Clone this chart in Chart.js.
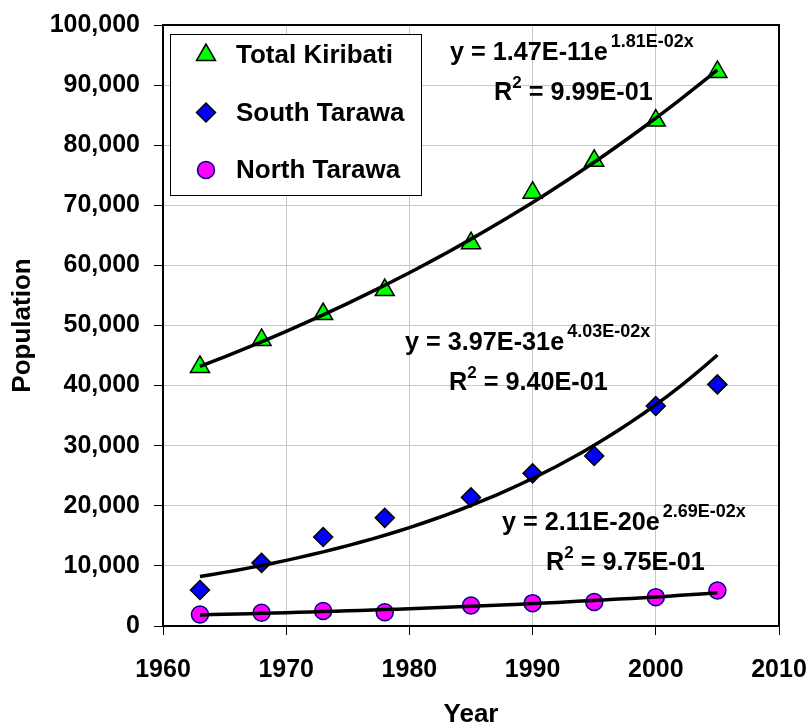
<!DOCTYPE html>
<html>
<head>
<meta charset="utf-8">
<title>Kiribati population</title>
<script src="https://cdn.jsdelivr.net/npm/chart.js@4.4.1/dist/chart.umd.min.js"></script>
<style>
  html, body { margin: 0; padding: 0; background: #fff; }
  canvas { display: block; }
</style>
</head>
<body>
<canvas id="grafico" width="811" height="722"></canvas>
<script>
// census years and population per series
const years = [1963, 1968, 1973, 1978, 1985, 1990, 1995, 2000, 2005];
const totalKiribati = [43100, 47600, 51900, 55900, 63700, 72100, 77400, 84100, 92200];
const southTarawa = [6000, 10500, 14800, 18000, 21400, 25400, 28300, 36600, 40200];
const northTarawa = [1900, 2200, 2500, 2300, 3400, 3800, 4000, 4800, 5900];
const seriesNames = ['Total Kiribati', 'South Tarawa', 'North Tarawa'];

// axis ticks
const xTicks = [1960, 1970, 1980, 1990, 2000, 2010];
const yTicks = [0, 10000, 20000, 30000, 40000, 50000, 60000, 70000, 80000, 90000, 100000];

// trendline equation texts: [coefficient, exponent, R squared]
const ecuaciones = [
    ['1.47E-11', '1.81E-02x', '9.99E-01'],
    ['3.97E-31', '4.03E-02x', '9.40E-01'],
    ['2.11E-20', '2.69E-02x', '9.75E-01']
];

const FUENTE = '"Liberation Sans", Arial, Helvetica, sans-serif';

const estilos = [
    { pointStyle: 'triangle', radius: 11, fill: '#00ff00', border: '#000000' },
    { pointStyle: 'rectRot', radius: 9.5, fill: '#0000ff', border: '#000000' },
    { pointStyle: 'circle', radius: 8.5, fill: '#ff00ff', border: '#000080' }
];

// least squares on ln(y), same as a spreadsheet exponential trendline
function ajusteExponencial(xs, ys) {
    const n = xs.length;
    const lns = ys.map(function (v) { return Math.log(v); });
    const mx = xs.reduce(function (a, b) { return a + b; }, 0) / n;
    const my = lns.reduce(function (a, b) { return a + b; }, 0) / n;
    let sxy = 0, sxx = 0;
    for (let i = 0; i < n; i++) {
        sxy += (xs[i] - mx) * (lns[i] - my);
        sxx += (xs[i] - mx) * (xs[i] - mx);
    }
    const b = sxy / sxx;
    const lnA = my - b * mx;
    return function (x) { return Math.exp(lnA + b * x); };
}

function lineaTendencia(valores) {
    const f = ajusteExponencial(years, valores);
    const puntos = [];
    for (let x = years[0]; x <= years[years.length - 1]; x++) {
        puntos.push({ x: x, y: f(x) });
    }
    return puntos;
}

function aPuntos(valores) {
    return years.map(function (x, i) { return { x: x, y: valores[i] }; });
}

const series = [totalKiribati, southTarawa, northTarawa];

const datasets = [];
series.forEach(function (valores, i) {
    datasets.push({
        label: seriesNames[i],
        data: aPuntos(valores),
        showLine: false,
        pointStyle: estilos[i].pointStyle,
        pointRadius: estilos[i].radius,
        pointBackgroundColor: estilos[i].fill,
        pointBorderColor: estilos[i].border,
        pointBorderWidth: 1.5,
        order: 2,
        enLeyenda: true,
        estilo: estilos[i]
    });
});
series.forEach(function (valores, i) {
    datasets.push({
        label: 'tendencia ' + seriesNames[i],
        data: lineaTendencia(valores),
        showLine: true,
        borderColor: '#000000',
        borderWidth: 3.5,
        pointRadius: 0,
        tension: 0,
        order: 1
    });
});

// black frame around the plot area
const marcoPlugin = {
    id: 'marco',
    beforeDatasetsDraw: function (chart) {
        const a = chart.chartArea;
        const ctx = chart.ctx;
        ctx.save();
        ctx.strokeStyle = '#000000';
        ctx.lineWidth = 2;
        ctx.strokeRect(a.left, a.top, a.right - a.left, a.bottom - a.top);
        ctx.restore();
    }
};

function dibujarMarcador(ctx, estilo, x, y) {
    ctx.save();
    ctx.fillStyle = estilo.fill;
    ctx.strokeStyle = estilo.border;
    ctx.lineWidth = 1.5;
    if (Chart.helpers && Chart.helpers.drawPoint) {
        Chart.helpers.drawPoint(ctx, {
            pointStyle: estilo.pointStyle,
            radius: estilo.radius,
            rotation: 0,
            borderWidth: 1.5
        }, x, y);
    } else {
        ctx.beginPath();
        ctx.arc(x, y, estilo.radius, 0, Math.PI * 2);
        ctx.fill();
        ctx.stroke();
    }
    ctx.restore();
}

// boxed legend in the upper left of the plot
const leyendaPlugin = {
    id: 'leyendaCaja',
    afterDatasetsDraw: function (chart) {
        const ctx = chart.ctx;
        const a = chart.chartArea;
        const caja = { x: a.left + 7, y: a.top + 9, w: 251, h: 161 };
        ctx.save();
        ctx.fillStyle = '#ffffff';
        ctx.fillRect(caja.x, caja.y, caja.w, caja.h);
        ctx.strokeStyle = '#000000';
        ctx.lineWidth = 1;
        ctx.strokeRect(caja.x + 0.5, caja.y + 0.5, caja.w, caja.h);

        const items = chart.data.datasets.filter(function (d) { return d.enLeyenda; });
        items.forEach(function (d, i) {
            const y = caja.y + 21 + i * 57.5;
            dibujarMarcador(ctx, d.estilo, caja.x + 36, y);
            ctx.fillStyle = '#000000';
            ctx.font = 'bold 26px ' + FUENTE;
            ctx.textAlign = 'left';
            ctx.textBaseline = 'middle';
            ctx.fillText(d.label, caja.x + 66, y + 1);
        });
        ctx.restore();
    }
};

// trendline equations with superscripts
const posicionesEcuacion = [
    { x: 287, y: 35 },
    { x: 242, y: 325 },
    { x: 339, y: 505 }
];

function textoComprimido(ctx, texto, x, y, tam, escala) {
    ctx.save();
    ctx.font = 'bold ' + tam + 'px ' + FUENTE;
    ctx.translate(x, y);
    ctx.scale(escala, 1);
    ctx.fillText(texto, 0, 0);
    const ancho = ctx.measureText(texto).width * escala;
    ctx.restore();
    return ancho;
}

const ecuacionesPlugin = {
    id: 'ecuaciones',
    afterDraw: function (chart) {
        const ctx = chart.ctx;
        const a = chart.chartArea;
        ctx.save();
        ctx.fillStyle = '#000000';
        ctx.textAlign = 'left';
        ctx.textBaseline = 'alphabetic';
        ecuaciones.forEach(function (eq, i) {
            const x0 = a.left + posicionesEcuacion[i].x;
            const y0 = a.top + posicionesEcuacion[i].y;
            let x = x0;
            x += textoComprimido(ctx, 'y = ' + eq[0] + 'e', x, y0, 26, 0.97);
            textoComprimido(ctx, eq[1], x + 3, y0 - 13, 18, 1);

            let x2 = x0 + 44;
            const y2 = y0 + 40;
            x2 += textoComprimido(ctx, 'R', x2, y2, 26, 0.97);
            x2 += textoComprimido(ctx, '2', x2, y2 - 12, 17, 1);
            textoComprimido(ctx, ' = ' + eq[2], x2, y2, 26, 0.97);
        });
        ctx.restore();
    }
};

new Chart(document.getElementById('grafico').getContext('2d'), {
    type: 'scatter',
    data: { datasets: datasets },
    plugins: [marcoPlugin, leyendaPlugin, ecuacionesPlugin],
    options: {
        responsive: false,
        animation: false,
        devicePixelRatio: 1,
        layout: { padding: { left: 0, top: 25, right: 32, bottom: 0 } },
        plugins: {
            legend: { display: false },
            tooltip: { enabled: false }
        },
        scales: {
            x: {
                type: 'linear',
                min: xTicks[0],
                max: xTicks[xTicks.length - 1],
                afterBuildTicks: function (scale) {
                    scale.ticks = xTicks.map(function (v) { return { value: v }; });
                },
                afterFit: function (scale) {
                    scale.height = 96;
                    scale.paddingLeft = 0;
                    scale.paddingRight = 0;
                },
                grid: {
                    color: '#c8c8c8',
                    lineWidth: 1,
                    tickColor: '#000000',
                    tickLength: 9
                },
                border: { display: true, color: '#000000', width: 2 },
                ticks: {
                    padding: 20,
                    color: '#000000',
                    font: { family: FUENTE, size: 25, weight: 'bold' },
                    callback: function (v) { return String(v); }
                },
                title: {
                    display: true,
                    text: 'Year',
                    color: '#000000',
                    font: { family: FUENTE, size: 26, weight: 'bold', lineHeight: 0.55 },
                    padding: { top: 0, bottom: 0 }
                }
            },
            y: {
                type: 'linear',
                min: yTicks[0],
                max: yTicks[yTicks.length - 1],
                afterBuildTicks: function (scale) {
                    scale.ticks = yTicks.map(function (v) { return { value: v }; });
                },
                afterFit: function (scale) {
                    scale.width = 163;
                    scale.paddingTop = 0;
                    scale.paddingBottom = 0;
                },
                grid: {
                    color: '#c8c8c8',
                    lineWidth: 1,
                    tickColor: '#000000',
                    tickLength: 9
                },
                border: { display: true, color: '#000000', width: 2 },
                ticks: {
                    padding: 14,
                    color: '#000000',
                    font: { family: FUENTE, size: 25, weight: 'bold' },
                    callback: function (v) { return Number(v).toLocaleString('en-US'); }
                },
                title: {
                    display: true,
                    text: 'Population',
                    color: '#000000',
                    font: { family: FUENTE, size: 26, weight: 'bold' },
                    padding: { top: 7, bottom: 0 }
                }
            }
        }
    }
});
</script>
</body>
</html>
